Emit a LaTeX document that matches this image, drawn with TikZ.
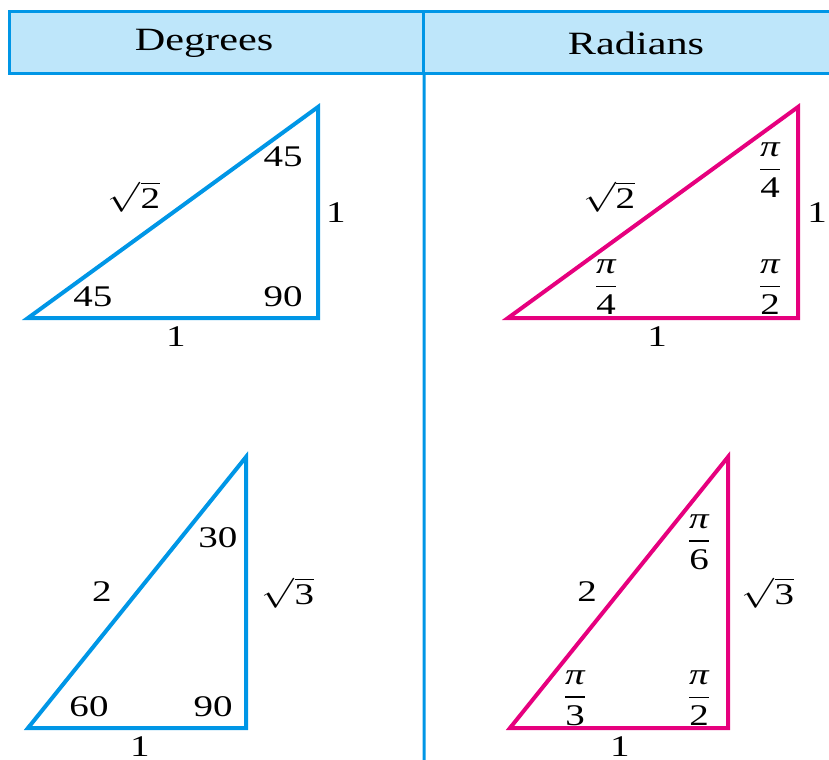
\documentclass[tikz,border=0pt]{standalone}
\usepackage{fontspec}
\usepackage{amsmath}
\usepackage{graphicx}
\setmainfont{Liberation Serif}[FakeStretch=1.3]
\newfontfamily\plainserif{Liberation Serif}
\definecolor{degblue}{RGB}{0,150,230}
\definecolor{radpink}{RGB}{230,0,126}
\definecolor{headfill}{RGB}{190,230,250}
\newcommand{\angfrac}[2]{$\dfrac{\text{\itshape #1}}{\text{#2}}$}
\newcommand{\sidesqrt}[1]{\scalebox{1.3}[1]{$\sqrt{\text{\plainserif #1}}$}}
\begin{document}
\begin{tikzpicture}[
	x=0.4pt, y=-0.4pt,
	headcell/.style={ draw=degblue, fill=headfill, line width=1.2pt, minimum height=24.4pt, inner sep=0pt, outer sep=0pt },
	headtxt/.style={ inner sep=0pt, font=\fontsize{13}{15}\selectfont },
	lbl/.style={ inner sep=0pt, font=\fontsize{12}{14}\selectfont },
	degtri/.style={ degblue, line width=1.6pt, line join=miter },
	radtri/.style={ radpink, line width=1.6pt, line join=miter }
]

\useasboundingbox (0,0) rectangle (829,760);

% header
\node[headcell, minimum width=165.6pt] at (217,42.5) (degcell) {};
\node[headcell, minimum width=169.6pt] at (636,42.5) (radcell) {};
\node[headtxt] at (204,43) (deghead) {Degrees};
\node[headtxt] at (636,43) (radhead) {Radians};
\coordinate (divbot) at (424,765);
\draw[degblue, line width=1.2pt] (degcell.south east) to (divbot);

% 45-45-90 in degrees
\coordinate (t1a) at (28,318);
\coordinate (t1b) at (318,318);
\coordinate (t1c) at (318,107);
\draw[degtri] (t1a) to (t1b) to (t1c) to cycle;
\node[lbl] at (283,157) (t1top) {45};
\node[lbl] at (93,297) (t1left) {45};
\node[lbl] at (283,297) (t1right) {90};
\node[lbl] at (134,197) (t1hyp) {\sidesqrt{2}};
\node[lbl] at (336,213) (t1side) {1};
\node[lbl] at (176,337) (t1base) {1};

% 45-45-90 in radians
\coordinate (t2a) at (508,318);
\coordinate (t2b) at (798,318);
\coordinate (t2c) at (798,107);
\draw[radtri] (t2a) to (t2b) to (t2c) to cycle;
\node[lbl] at (770,170) (t2top) {\angfrac{π}{4}};
\node[lbl] at (606,287) (t2left) {\angfrac{π}{4}};
\node[lbl] at (770,287) (t2right) {\angfrac{π}{2}};
\node[lbl] at (609,197) (t2hyp) {\sidesqrt{2}};
\node[lbl] at (817,213) (t2side) {1};
\node[lbl] at (657,337) (t2base) {1};

% 30-60-90 in degrees
\coordinate (t3a) at (28,728);
\coordinate (t3b) at (246,728);
\coordinate (t3c) at (246,457);
\draw[degtri] (t3a) to (t3b) to (t3c) to cycle;
\node[lbl] at (218,538) (t3top) {30};
\node[lbl] at (89,707) (t3left) {60};
\node[lbl] at (213,707) (t3right) {90};
\node[lbl] at (102,592) (t3hyp) {2};
\node[lbl] at (288,593) (t3side) {\sidesqrt{3}};
\node[lbl] at (140,747) (t3base) {1};

% 30-60-90 in radians
\coordinate (t4a) at (510,728);
\coordinate (t4b) at (728,728);
\coordinate (t4c) at (728,457);
\draw[radtri] (t4a) to (t4b) to (t4c) to cycle;
\node[lbl] at (699,542) (t4top) {\angfrac{π}{6}};
\node[lbl] at (575,698) (t4left) {\angfrac{π}{3}};
\node[lbl] at (699,698) (t4right) {\angfrac{π}{2}};
\node[lbl] at (587,592) (t4hyp) {2};
\node[lbl] at (768,593) (t4side) {\sidesqrt{3}};
\node[lbl] at (620,747) (t4base) {1};

\end{tikzpicture}
\end{document}
